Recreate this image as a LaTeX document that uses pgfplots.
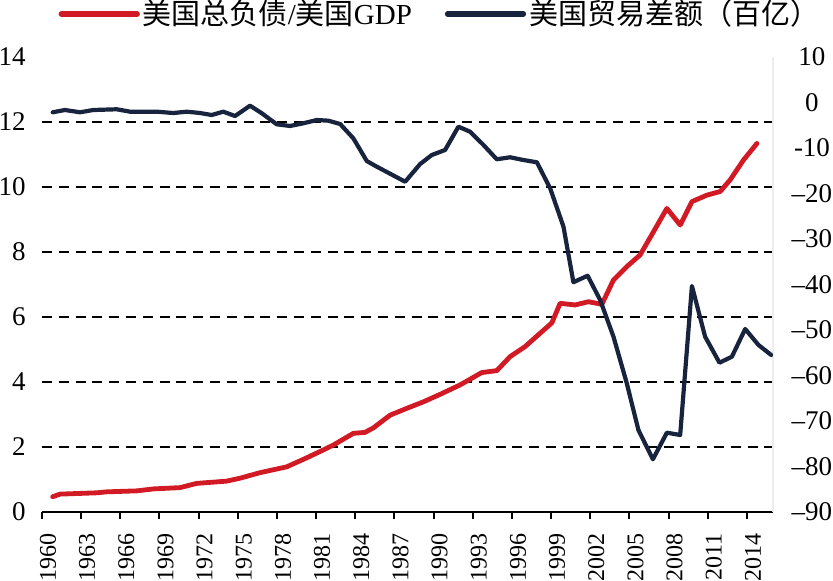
\documentclass[border=0pt]{standalone}
\usepackage{fontspec}
\setmainfont{Liberation Serif}
\newfontfamily\cjk{Noto Sans CJK SC}
\usepackage{pgfplots}
\pgfplotsset{compat=1.18}
\usepackage{pgfplotstable}

\definecolor{debtred}{HTML}{D11A24}
\definecolor{tradenavy}{HTML}{18243E}

% US total debt / US GDP
\pgfplotstableread{
year ratio
1960.82 0.47
1961.38 0.55
1964.19 0.59
1964.96 0.62
1967.26 0.65
1968.53 0.71
1970.57 0.75
1971.85 0.88
1974.15 0.95
1975.17 1.04
1976.70 1.21
1978.75 1.39
1980.02 1.62
1981.30 1.86
1982.32 2.06
1983.85 2.42
1984.75 2.45
1985.39 2.59
1986.67 2.98
1987.95 3.19
1989.22 3.39
1990.50 3.62
1992.03 3.91
1993.69 4.29
1994.84 4.35
1995.86 4.78
1997.01 5.09
1998.16 5.50
1999.06 5.82
1999.69 6.42
2000.84 6.37
2001.86 6.47
2002.89 6.39
2003.78 7.14
2004.80 7.55
2005.82 7.91
2006.84 8.62
2007.87 9.34
2008.89 8.83
2009.79 9.55
2010.94 9.75
2011.95 9.86
2012.72 10.22
2013.74 10.83
2014.77 11.34
}\debt

% US trade balance (hundred billion)
\pgfplotstableread{
year bal
1960.82 -2.15
1961.76 -1.65
1962.91 -2.15
1963.93 -1.65
1965.72 -1.49
1966.74 -2.02
1968.79 -2.02
1970.06 -2.31
1971.09 -2.02
1972.11 -2.31
1973.00 -2.75
1973.89 -2.02
1974.79 -2.97
1975.94 -0.70
1976.84 -2.37
1977.98 -4.79
1979.00 -5.16
1980.02 -4.57
1981.05 -3.85
1981.94 -4.00
1982.84 -4.73
1983.85 -7.87
1984.88 -12.86
1985.65 -14.11
1987.82 -17.41
1988.97 -13.52
1989.86 -11.54
1990.88 -10.44
1991.90 -5.32
1992.80 -6.42
1993.82 -9.34
1994.84 -12.48
1995.86 -12.04
1996.88 -12.64
1997.91 -13.14
1998.93 -18.86
1999.95 -27.30
2000.71 -39.50
2001.80 -38.07
2002.76 -43.41
2003.78 -51.47
2004.80 -61.71
2005.69 -71.98
2006.80 -78.42
2007.87 -72.57
2008.89 -73.08
2009.79 -40.33
2010.80 -51.47
2011.90 -57.19
2012.85 -55.87
2013.87 -49.78
2014.89 -53.30
2015.86 -55.49
}\trade

\pgfplotsset{
  twin/.style={
    scale only axis, width=365.5pt, height=227.5pt,
    xmin=1960, xmax=2016,
    /pgf/number format/assume math mode=true,
    tick label style={font=\fontsize{13.5}{13.5}\selectfont},
  },
}

\begin{document}
\begin{tikzpicture}
\path[use as bounding box] (-21pt,-34.5pt) rectangle (395.5pt,256pt);

% left axis: debt ratio
\begin{axis}[
  twin,
  ymin=0, ymax=14,
  axis x line*=bottom, axis y line*=left,
  axis line style={-},
  x axis line style={line width=1pt, black},
  y axis line style={draw=none},
  xtick={1960,1963,...,2014},
  xticklabels={1960,1963,1966,1969,1972,1975,1978,1981,1984,1987,1990,1993,1996,1999,2002,2005,2008,2011,2014},
  tick align=outside,
  major tick length=3.5pt,
  xtick style={line width=1pt, black},
  x tick label style={xshift=3pt, yshift=-7pt, rotate=90, anchor=east, inner sep=0pt, font=\fontsize{12}{12}\selectfont},
  ytick={0,2,...,14},
  ytick style={draw=none},
  y tick label style={anchor=east, inner sep=0pt, xshift=-4.5pt},
  extra y ticks={2,4,...,12},
  extra y tick labels={},
  extra y tick style={grid=major, ytick style={draw=none}},
  major grid style={black, line width=1pt, dash pattern=on 5pt off 3.4pt},
]
\addplot[debtred, line width=2.4pt, line join=round, line cap=round] table[x=year, y=ratio] {\debt};
\end{axis}

% right axis: trade balance
\begin{axis}[
  twin,
  ymin=-90, ymax=10,
  axis x line=none, axis y line*=right,
  axis line style={-},
  y axis line style={draw=black!7, line width=0.8pt},
  ytick={-90,-80,...,10},
  yticklabels={--90,--80,--70,--60,--50,--40,--30,--20,-10,0,10},
  ytick style={draw=none},
  y tick label style={anchor=center, xshift=19.5pt},
  legend columns=2,
  legend style={at={(0.545,1.0945)}, anchor=center, draw=none, fill=none,
    font=\fontsize{14.5}{16}\selectfont,
    /tikz/every even column/.append style={column sep=15pt},
    nodes={inner sep=1.5pt}},
  legend image code/.code={\draw[#1, line width=2.6pt, line cap=round] (0pt,0pt) -- (38pt,0pt);},
]
\addlegendimage{debtred}
\addlegendentry{{\cjk 美国总负债}/{\cjk 美国}GDP}
\addplot[tradenavy, line width=2.1pt, line join=round, line cap=round] table[x=year, y=bal] {\trade};
\addlegendentry{{\cjk 美国贸易差额（百亿）}}
\end{axis}
\end{tikzpicture}
\end{document}
